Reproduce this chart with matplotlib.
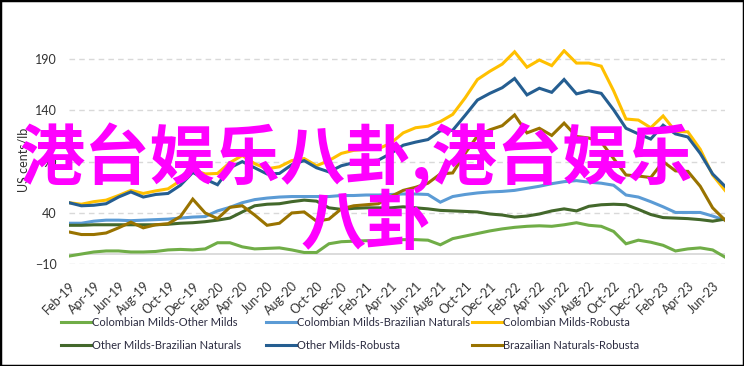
import matplotlib
matplotlib.use("Agg")
import matplotlib.pyplot as plt
from matplotlib.patches import Rectangle
import numpy as np
import pandas as pd

plt.rcParams['font.family'] = ['Lato', 'DejaVu Sans']

months = pd.date_range('2019-02-01', periods=54, freq='MS').strftime('%b-%y').tolist()

cm_om = [-2, 0, 2, 3, 3, 2, 2, 2.5, 4, 4.5, 4, 5, 11, 11, 7, 5, 5.5, 6, 4, 1.5,
         1.5, 10, 12, 12.5, 13, 13, 13.5, 14, 14, 13.5, 9, 15, 17.5, 20, 22.5, 24.5, 26, 27, 27.5, 27,
         28.5, 30.5, 28, 27, 22, 10, 13.5, 11.5, 8.5, 3, 5, 6, 4, -3]
cm_bn = [30, 30, 32, 33, 33, 32.5, 33, 33.5, 34, 35, 36, 36.5, 42, 45.5, 50, 53, 54.5, 55.5, 56, 56,
         56, 56, 57, 57, 57.5, 57.5, 58, 58.5, 58.5, 58, 50.5, 56, 58, 59.5, 60.5, 61, 62, 64, 66, 68.5,
         70.5, 71.5, 70, 69, 67, 57.5, 55.5, 51, 46, 40.5, 40.5, 40.5, 37, 33]
cm_r = [50, 48.5, 51, 52.5, 57, 62, 59, 61.5, 63.5, 71.5, 82, 78, 78.5, 89, 96, 88, 83, 85, 91, 93,
        86, 91, 98, 101, 102, 102.5, 108, 118, 123, 124.5, 129, 136, 152, 170, 178, 185, 197, 182, 189, 183.5,
        198, 186, 186, 183, 159, 131.5, 130.5, 123, 134.5, 119.5, 119, 102, 77, 62]
om_bn = [28, 28, 28.5, 28.5, 28.5, 28.5, 28.5, 28.5, 29, 30, 30.5, 31.5, 33, 35, 41, 47, 48.5, 49, 51, 52.5,
         51.5, 45, 43.5, 44.5, 45, 45, 45, 46, 45, 44, 42.5, 42, 41.5, 41, 39, 38, 36, 37, 39, 42,
         44, 42, 46.5, 48, 48.5, 48, 43.5, 38.5, 35.5, 35, 34.5, 33.5, 32, 34]
om_r = [50, 47, 47.5, 49, 55.5, 60.5, 55.5, 58, 59, 67, 79.5, 73, 67.5, 84, 90, 84, 78, 78.5, 87, 91,
        84, 80, 86, 89, 90.5, 91.5, 98, 106, 109, 111.5, 120, 120.5, 135, 150, 156.5, 162, 171, 155, 161.5, 157.5,
        170, 156, 159, 156.5, 140.5, 122.5, 117, 112, 125.5, 117, 114, 98, 78, 66]
bn_r = [21.5, 19, 19, 20.5, 25.5, 31, 25.5, 28.5, 29.5, 36.5, 53.5, 40, 34.5, 45.5, 47, 38, 28, 30, 40, 41,
        32, 34, 44, 47, 48, 49, 56, 62, 65, 69, 78, 79, 98, 115, 121, 125, 135.5, 118, 122.5, 115.5,
        127.5, 114.5, 113, 109, 93, 77, 76, 74.5, 90, 81, 80.5, 66, 45, 33]

series = [
    ('Colombian Milds-Other Milds', cm_om, '#70AD47'),
    ('Colombian Milds-Brazilian Naturals', cm_bn, '#5B9BD5'),
    ('Colombian Milds-Robusta', cm_r, '#FFC000'),
    ('Other Milds-Brazilian Naturals', om_bn, '#43682B'),
    ('Other Milds-Robusta', om_r, '#255E91'),
    ('Brazailian Naturals-Robusta', bn_r, '#997300'),
]

W, H = 744, 366
fig = plt.figure(figsize=(W / 100, H / 100), dpi=100)
ax = fig.add_axes([69 / W, (H - 264.3) / H, (725 - 69) / W, (264.3 - 48.7) / H])

x = np.arange(len(months))
lines = []
for name, vals, col in series:
    ln, = ax.plot(x, vals, color=col, lw=2.2, label=name, solid_joinstyle='miter')
    lines.append(ln)

ax.set_xlim(0, len(months) - 1)
ax.set_ylim(-10, 200)
ax.set_yticks([-10, 40, 90, 140, 190])
ax.yaxis.grid(True, linestyle=(0, (4, 3)), color='#D9D9D9', lw=1)
ax.axhline(0, color='#D9D9D9', lw=1.3, zorder=1)
ax.set_axisbelow(True)
for s in ax.spines.values():
    s.set_visible(False)
ax.tick_params(axis='both', length=0, labelcolor='#333333')
ax.tick_params(axis='y', pad=9, labelsize=9)
ax.tick_params(axis='x', pad=11, labelsize=9)
ax.set_xticks(x[::2])
ax.set_xticklabels(months[::2], rotation=45, ha='right', rotation_mode='anchor')

fig.text(24 / W, 1 - 160 / H, 'US cents/lb', rotation=90, ha='center', va='center',
         fontsize=9, color='#333333')

# legend: three columns, two rows
cols_x = [61, 266, 472]
for k, cx in enumerate(cols_x):
    fig.legend([lines[k], lines[k + 3]], [series[k][0], series[k + 3][0]],
               loc='upper left', bbox_to_anchor=(cx / W, 1 - 317 / H), ncol=1,
               frameon=False, fontsize=8, handlelength=2.7, handletextpad=0.1,
               labelspacing=1.1, borderaxespad=0, borderpad=0, labelcolor='#2B2B40')

# overlay text
fig.text(356 / W, 1 - 158 / H, '港台娱乐八卦,港台娱乐', ha='center', va='center',
         fontsize=47, fontweight='bold', color='#FF00FF',
         family=['Noto Sans CJK SC', 'DejaVu Sans'], zorder=10)
fig.text(366 / W, 1 - 224 / H, '八卦', ha='center', va='center',
         fontsize=47, fontweight='bold', color='#FF00FF',
         family=['Noto Sans CJK SC', 'DejaVu Sans'], zorder=10)

fig.patches.append(Rectangle((0, 0), 1, 1, transform=fig.transFigure, fill=False,
                             edgecolor='black', lw=2.5, zorder=20))

fig.savefig('out.png', dpi=100)
